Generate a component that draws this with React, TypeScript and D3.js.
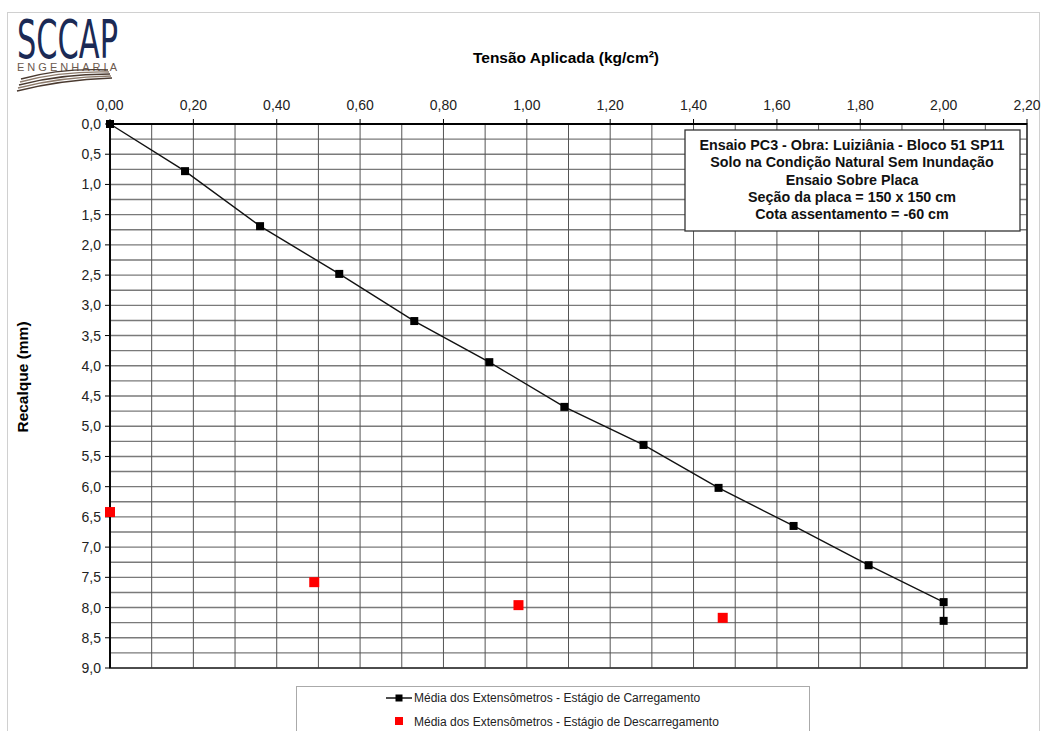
import React from "react";
import * as d3 from "d3";

const loadX = [0, 0.18, 0.36, 0.55, 0.73, 0.91, 1.09, 1.28, 1.46, 1.64, 1.82, 2.0, 2.0];
const loadY = [0, 0.78, 1.69, 2.48, 3.26, 3.94, 4.68, 5.31, 6.02, 6.65, 7.3, 7.91, 8.22];
const unloadX = [0, 0.49, 0.98, 1.47];
const unloadY = [6.42, 7.58, 7.96, 8.17];
const xTicks = [0, 0.2, 0.4, 0.6, 0.8, 1.0, 1.2, 1.4, 1.6, 1.8, 2.0, 2.2];
const yTicks = [0, 0.5, 1, 1.5, 2, 2.5, 3, 3.5, 4, 4.5, 5, 5.5, 6, 6.5, 7, 7.5, 8, 8.5, 9];
const xGrid = d3.range(0, 23).map((i) => i / 10);
const yGrid = d3.range(0, 37).map((i) => i / 4);
const infoLines = [
  "Ensaio PC3 - Obra: Luiziânia - Bloco 51 SP11",
  "Solo na Condição Natural Sem Inundação",
  "Ensaio Sobre Placa",
  "Seção da placa = 150 x 150 cm",
  "Cota assentamento = -60 cm",
];
const legendLabels = [
  "Média dos Extensômetros - Estágio de Carregamento",
  "Média dos Extensômetros - Estágio de Descarregamento",
];

const FONT = "'Liberation Sans', Arial, sans-serif";

export default function App() {
  const L = 110, R = 1027, T = 124, B = 668;
  const x = d3.scaleLinear().domain([0, 2.2]).range([L, R]);
  const y = d3.scaleLinear().domain([0, 9]).range([T, B]);
  const line = d3
    .line<number>()
    .x((_, i) => x(loadX[i]))
    .y((d) => y(d));
  const fmtX = (v: number) => v.toFixed(2).replace(".", ",");
  const fmtY = (v: number) => v.toFixed(1).replace(".", ",");

  return (
    <svg
      width={1045}
      height={731}
      style={{ position: "absolute", left: 0, top: 0, background: "#fff" }}
      fontFamily={FONT}
    >
      <rect x={7.5} y={12.5} width={1032} height={730} fill="none" stroke="#d0d0d0" />
      {/* Logo */}
      <text x={17} y={58} fontFamily="'Liberation Sans Narrow', 'DejaVu Sans Condensed', sans-serif" fontSize={54} fill="#1b2a55" textLength={101} lengthAdjust="spacingAndGlyphs">
        SCCAP
      </text>
      <text x={17} y={71} fontSize={11} fill="#6b5a4e" textLength={100} lengthAdjust="spacing">
        ENGENHARIA
      </text>
      {[0, 1, 2, 3, 4].map((i) => (
        <path
          key={i}
          d={`M${17 + i * 1} ${91 - i * 3} Q 60 ${80 - i * 3} ${112 - i * 1} ${78 - i * 2}`}
          fill="none"
          stroke={i % 2 ? "#8c7a6b" : "#4a3a30"}
          strokeWidth={1.3}
        />
      ))}

      {/* Titles */}
      <text x={566} y={63} textAnchor="middle" fontSize={15.5} fontWeight="bold">
        Tensão Aplicada (kg/cm²)
      </text>
      <text transform="translate(28,377) rotate(-90)" textAnchor="middle" fontSize={15.5} fontWeight="bold">
        Recalque (mm)
      </text>

      {/* Grid */}
      {yGrid.map((v) => (
        <line key={"h" + v} x1={L} x2={R} y1={y(v)} y2={y(v)} stroke="#7a7a7a" strokeWidth={1.4} />
      ))}
      {xGrid.map((v) => (
        <line key={"v" + v} x1={x(v)} x2={x(v)} y1={T} y2={B} stroke="#555" strokeWidth={1} />
      ))}
      <rect x={L} y={T} width={R - L} height={B - T} fill="none" stroke="#333" strokeWidth={1.5} />
      <line x1={L} x2={R} y1={T} y2={T} stroke="#000" strokeWidth={1.8} />
      <line x1={L} x2={L} y1={T} y2={B} stroke="#000" strokeWidth={1.8} />

      {/* Ticks */}
      {xTicks.map((v) => (
        <g key={"xt" + v}>
          <line x1={x(v)} x2={x(v)} y1={T} y2={T - 5} stroke="#000" />
          <text x={x(v)} y={T - 14} textAnchor="middle" fontSize={14} fill="#222">
            {fmtX(v)}
          </text>
        </g>
      ))}
      {yTicks.map((v) => (
        <g key={"yt" + v}>
          <line x1={L} x2={L - 5} y1={y(v)} y2={y(v)} stroke="#000" />
          <text x={L - 9} y={y(v) + 5} textAnchor="end" fontSize={14} fill="#222">
            {fmtY(v)}
          </text>
        </g>
      ))}

      {/* Info box */}
      <rect x={685} y={130} width={335} height={101} fill="#fff" stroke="#333" strokeWidth={1.3} />
      {infoLines.map((t, i) => (
        <text key={t} x={852} y={150 + i * 17.3} textAnchor="middle" fontSize={14.3} fontWeight="bold" fill="#111">
          {t}
        </text>
      ))}

      {/* Data */}
      <path d={line(loadY) || ""} fill="none" stroke="#111" strokeWidth={1.4} />
      {loadY.map((v, i) => (
        <rect key={"l" + i} x={x(loadX[i]) - 4} y={y(v) - 4} width={8} height={8} fill="#000" />
      ))}
      {unloadY.map((v, i) => (
        <rect key={"u" + i} x={x(unloadX[i]) - 5} y={y(v) - 5} width={10} height={10} fill="#ff0000" />
      ))}

      {/* Legend */}
      <rect x={296.5} y={686.5} width={513} height={60} fill="#fff" stroke="#aaa" />
      <line x1={386} x2={412} y1={698} y2={698} stroke="#000" strokeWidth={1.4} />
      <rect x={395.5} y={694.5} width={7} height={7} fill="#000" />
      <text x={414} y={702} fontSize={12} fill="#222">{legendLabels[0]}</text>
      <rect x={395} y={717} width={8} height={8} fill="#ff0000" />
      <text x={414} y={725.5} fontSize={12} fill="#222">{legendLabels[1]}</text>
    </svg>
  );
}
